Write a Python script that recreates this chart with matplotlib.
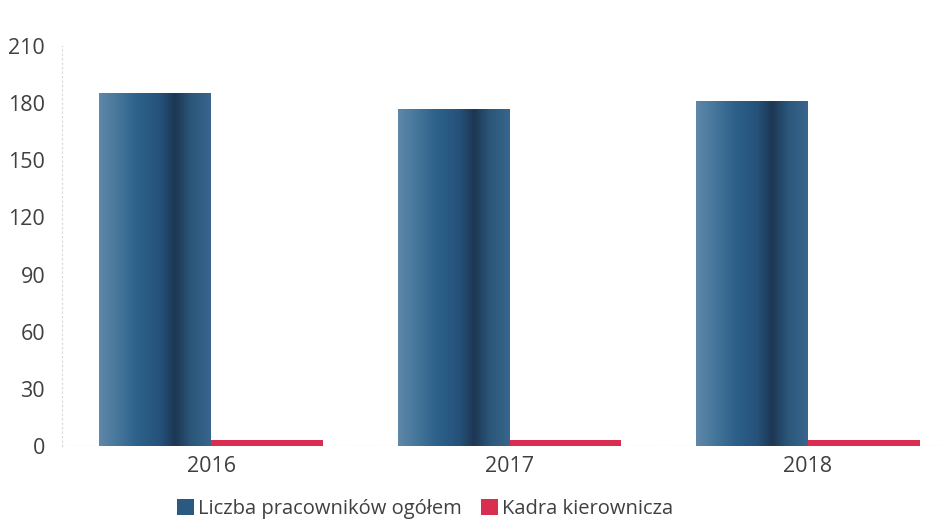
import matplotlib.pyplot as plt
import numpy as np
from matplotlib.colors import LinearSegmentedColormap
from matplotlib.patches import Patch

plt.rcParams['font.family'] = ['Open Sans', 'DejaVu Sans']

years = ['2016', '2017', '2018']
total_staff = [185, 177, 181]
management = [3, 3, 3]
series_names = ['Liczba pracowników ogółem', 'Kadra kierownicza']

BLUE = '#2a5a82'
RED = '#da2e50'

blue_grad = LinearSegmentedColormap.from_list('cyl', [
    (0.0, '#5f88a9'),
    (0.12, '#4c7b9f'),
    (0.35, '#2d6189'),
    (0.55, '#25517a'),
    (0.68, '#1d3753'),
    (0.82, '#2a5679'),
    (1.0, '#38668d'),
])

fig = plt.figure(figsize=(9.51, 5.24), dpi=100)
ax = fig.add_axes([0.065, 0.149, 0.929, 0.763])

x = np.arange(len(years))
w = 0.375
blue_bars = ax.bar(x - w / 2, total_staff, w, color='none', zorder=2)
red_bars = ax.bar(x + w / 2, management, w, color=RED, zorder=2)

grad = np.linspace(0, 1, 256).reshape(1, -1)
for r in blue_bars:
    x0, y0 = r.get_x(), r.get_y()
    ax.imshow(grad, cmap=blue_grad, aspect='auto', zorder=2,
              extent=[x0, x0 + r.get_width(), y0, y0 + r.get_height()])

ax.set_xlim(-0.5, 2.46)
ax.set_ylim(0, 210)
ax.set_yticks(range(0, 211, 30))
ax.set_xticks(x)
ax.set_xticklabels(years)

for s in ['top', 'right', 'bottom']:
    ax.spines[s].set_visible(False)
ax.spines['left'].set_color('#d8d8d8')
ax.spines['left'].set_linestyle((0, (1, 3)))
ax.axhline(0, color='#9a9aaa', lw=0.8, ls=(0, (2, 2)), zorder=1)
ax.tick_params(length=0, labelsize=15.5, labelcolor='#404040')
ax.tick_params(axis='x', pad=7)
ax.tick_params(axis='y', pad=12)

handles = [Patch(facecolor=BLUE, edgecolor='none'),
           Patch(facecolor=RED, edgecolor='none')]
fig.legend(handles, series_names, loc='lower center', ncol=2,
           bbox_to_anchor=(0.447, -0.025), frameon=False, fontsize=14.5,
           handlelength=0.8, handleheight=0.9, handletextpad=0.2,
           columnspacing=1.0, labelcolor='#404040')

fig.savefig('out.png', dpi=100)
